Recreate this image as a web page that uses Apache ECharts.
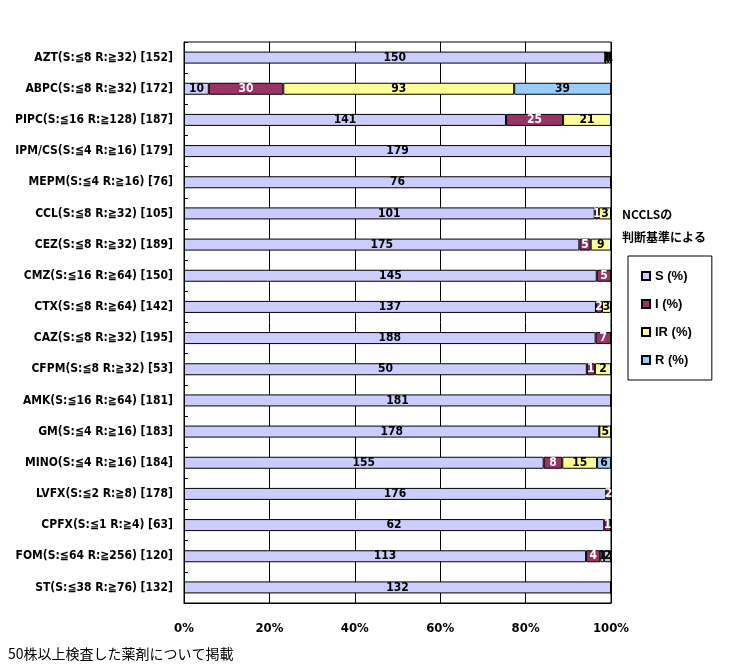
<!DOCTYPE html>
<html>
    <head>
        <meta charset="utf-8">
        <title>NCCLS 判定</title>
        <script src="https://cdn.jsdelivr.net/npm/echarts@6/dist/echarts.min.js"></script>
        <style>
            html, body { margin: 0; padding: 0; background: #fff; }
            #chart1 { width: 737px; height: 671px; }
        </style>
    </head>
    <body>
        <div id="chart1"></div>
    </body>
    <script type="text/javascript">
        // 薬剤名（判定基準）[株数]
        var drugs = [
            'AZT(S:≦8 R:≧32) [152]',
            'ABPC(S:≦8 R:≧32) [172]',
            'PIPC(S:≦16 R:≧128) [187]',
            'IPM/CS(S:≦4 R:≧16) [179]',
            'MEPM(S:≦4 R:≧16) [76]',
            'CCL(S:≦8 R:≧32) [105]',
            'CEZ(S:≦8 R:≧32) [189]',
            'CMZ(S:≦16 R:≧64) [150]',
            'CTX(S:≦8 R:≧64) [142]',
            'CAZ(S:≦8 R:≧32) [195]',
            'CFPM(S:≦8 R:≧32) [53]',
            'AMK(S:≦16 R:≧64) [181]',
            'GM(S:≦4 R:≧16) [183]',
            'MINO(S:≦4 R:≧16) [184]',
            'LVFX(S:≦2 R:≧8) [178]',
            'CPFX(S:≦1 R:≧4) [63]',
            'FOM(S:≦64 R:≧256) [120]',
            'ST(S:≦38 R:≧76) [132]'
        ];
        // 株数
        var countS  = [150, 10, 141, 179, 76, 101, 175, 145, 137, 188, 50, 181, 178, 155, 176, 62, 113, 132];
        var countI  = [0, 30, 25, 0, 0, 1, 5, 5, 2, 7, 1, 0, 0, 8, 2, 1, 4, 0];
        var countIR = [1, 93, 21, 0, 0, 3, 9, 0, 3, 0, 2, 0, 5, 15, 0, 0, 1, 0];
        var countR  = [1, 39, 0, 0, 0, 0, 0, 0, 0, 0, 0, 0, 0, 6, 0, 0, 2, 0];
        var xTicks = [0, 20, 40, 60, 80, 100];

        var narrow = '"Liberation Sans Narrow", "DejaVu Sans Condensed", "Noto Sans CJK JP", sans-serif';
        var jp = '"Noto Sans CJK JP", sans-serif';

        var totals = countS.map(function (v, i) {
            return v + countI[i] + countIR[i] + countR[i];
        });

        function toPercent(arr) {
            return arr.map(function (v, i) {
                return { value: v / totals[i] * 100, count: v };
            });
        }

        function makeSeries(name, arr, color, labelColor) {
            return {
                name: name,
                type: 'bar',
                stack: 'all',
                barWidth: 12,
                data: toPercent(arr),
                itemStyle: { color: color, borderColor: '#000', borderWidth: 1 },
                label: {
                    show: true,
                    position: 'inside',
                    color: labelColor,
                    fontFamily: narrow,
                    fontWeight: 'bold',
                    fontSize: 12,
                    formatter: function (p) {
                        return p.data.count > 0 ? String(p.data.count) : '';
                    }
                },
                emphasis: { disabled: true }
            };
        }

        var myChart = echarts.init(document.getElementById('chart1'));
        myChart.setOption({
            animation: false,
            backgroundColor: '#fff',
            grid: {
                left: 184, top: 42, width: 427, height: 561,
                show: true, borderColor: '#000', borderWidth: 1,
                containLabel: false
            },
            legend: {
                orient: 'vertical',
                left: 628, top: 256,
                data: ['S (%)', 'I (%)', 'IR (%)', 'R (%)'],
                icon: 'rect',
                itemWidth: 8, itemHeight: 8, itemGap: 14,
                padding: [13, 20, 13, 13],
                borderColor: '#000', borderWidth: 1,
                textStyle: { fontFamily: '"Liberation Sans", sans-serif', fontWeight: 'bold', fontSize: 13, color: '#000', lineHeight: 14 }
            },
            xAxis: {
                type: 'value',
                min: xTicks[0], max: xTicks[xTicks.length - 1], interval: 20,
                axisLine: { show: true, lineStyle: { color: '#000' } },
                axisTick: { show: false },
                splitLine: { show: true, lineStyle: { color: '#000', width: 1 } },
                axisLabel: {
                    margin: 19,
                    color: '#000',
                    fontFamily: narrow,
                    fontWeight: 'bold',
                    fontSize: 13,
                    formatter: '{value}%'
                }
            },
            yAxis: {
                type: 'category',
                inverse: true,
                data: drugs,
                axisLine: { show: true, lineStyle: { color: '#000' } },
                axisTick: { show: true, inside: true, length: 4, lineStyle: { color: '#000' } },
                axisLabel: {
                    margin: 11,
                    color: '#000',
                    fontFamily: narrow,
                    fontWeight: 'bold',
                    fontSize: 12
                }
            },
            graphic: [
                { type: 'text', left: 622, top: 208, style: { text: 'NCCLSの', fill: '#000', font: 'bold 12px ' + jp } },
                { type: 'text', left: 622, top: 231, style: { text: '判断基準による', fill: '#000', font: 'bold 12px ' + jp } },
                { type: 'text', left: 8, top: 647, style: { text: '50株以上検査した薬剤について掲載', fill: '#000', font: '14px ' + jp } }
            ],
            series: [
                makeSeries('S (%)', countS, '#CCCCFF', '#000'),
                makeSeries('I (%)', countI, '#993366', '#fff'),
                makeSeries('IR (%)', countIR, '#FFFF99', '#000'),
                makeSeries('R (%)', countR, '#99CCFF', '#000')
            ]
        });
    </script>
</html>
